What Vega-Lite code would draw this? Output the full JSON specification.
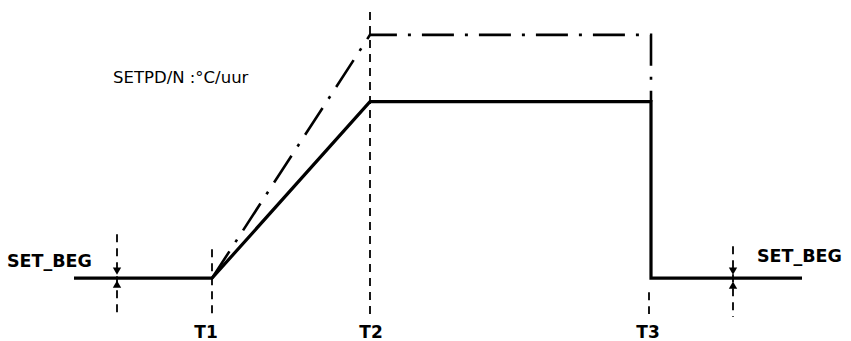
{
  "$schema": "https://vega.github.io/schema/vega-lite/v6.json",
  "width": 851,
  "height": 341,
  "autosize": {"type": "fit", "contains": "padding"},
  "padding": 0,
  "background": "white",
  "config": {"view": {"stroke": null}},
  "datasets": {
    "solid": [
      {"o": 1, "t": 74, "v": 62},
      {"o": 2, "t": 212, "v": 62},
      {"o": 3, "t": 370, "v": 239},
      {"o": 4, "t": 651, "v": 239},
      {"o": 5, "t": 651, "v": 62},
      {"o": 6, "t": 802, "v": 62}
    ],
    "dashdot": [
      {"o": 1, "t": 212, "v": 62},
      {"o": 2, "t": 370, "v": 306},
      {"o": 3, "t": 651, "v": 306},
      {"o": 4, "t": 651, "v": 239}
    ],
    "markers": [
      {"t": 117, "v": 106, "v2": 26},
      {"t": 212, "v": 91, "v2": 26},
      {"t": 370, "v": 329, "v2": 26},
      {"t": 649, "v": 48, "v2": 26},
      {"t": 733, "v": 94, "v2": 23}
    ],
    "arrowsDown": [
      {"t": 117, "v": 69},
      {"t": 733, "v": 69}
    ],
    "arrowsUp": [
      {"t": 117, "v": 56},
      {"t": 733, "v": 55}
    ],
    "setBeg": [
      {"t": 7, "v": 73, "txt": "SET_BEG"},
      {"t": 757, "v": 78, "txt": "SET_BEG"}
    ],
    "rate": [
      {"t": 113, "v": 258, "txt": "SETPD/N :°C/uur"}
    ],
    "labelsT": [
      {"t": 206, "v": 2, "txt": "T1"},
      {"t": 371, "v": 2, "txt": "T2"},
      {"t": 648, "v": 2, "txt": "T3"}
    ]
  },
  "encoding": {
    "x": {"field": "t", "type": "quantitative", "axis": null, "scale": {"domain": [0, 851], "nice": false, "zero": false}},
    "y": {"field": "v", "type": "quantitative", "axis": null, "scale": {"domain": [0, 341], "nice": false, "zero": false}}
  },
  "layer": [
    {
      "data": {"name": "markers"},
      "mark": {"type": "rule", "color": "black", "strokeWidth": 1.8, "strokeDash": [8, 6]},
      "encoding": {"y2": {"field": "v2"}}
    },
    {
      "data": {"name": "dashdot"},
      "mark": {"type": "line", "color": "black", "strokeWidth": 2.6, "strokeDash": [32, 11, 3, 11], "strokeJoin": "miter", "strokeCap": "butt"},
      "encoding": {"order": {"field": "o"}}
    },
    {
      "data": {"name": "solid"},
      "mark": {"type": "line", "color": "black", "strokeWidth": 3.2, "strokeJoin": "miter", "strokeCap": "butt"},
      "encoding": {"order": {"field": "o"}}
    },
    {
      "data": {"name": "arrowsDown"},
      "mark": {"type": "point", "shape": "triangle-down", "filled": true, "color": "black", "size": 70, "opacity": 1}
    },
    {
      "data": {"name": "arrowsUp"},
      "mark": {"type": "point", "shape": "triangle-up", "filled": true, "color": "black", "size": 70, "opacity": 1}
    },
    {
      "data": {"name": "setBeg"},
      "mark": {"type": "text", "align": "left", "baseline": "alphabetic", "font": "DejaVu Sans", "fontSize": 17.5, "fontWeight": "bold", "color": "black"},
      "encoding": {"text": {"field": "txt"}}
    },
    {
      "data": {"name": "rate"},
      "mark": {"type": "text", "align": "left", "baseline": "alphabetic", "font": "DejaVu Sans", "fontSize": 16.5, "color": "black"},
      "encoding": {"text": {"field": "txt"}}
    },
    {
      "data": {"name": "labelsT"},
      "mark": {"type": "text", "align": "center", "baseline": "alphabetic", "font": "DejaVu Sans", "fontSize": 17, "fontWeight": "bold", "color": "black"},
      "encoding": {"text": {"field": "txt"}}
    }
  ]
}
